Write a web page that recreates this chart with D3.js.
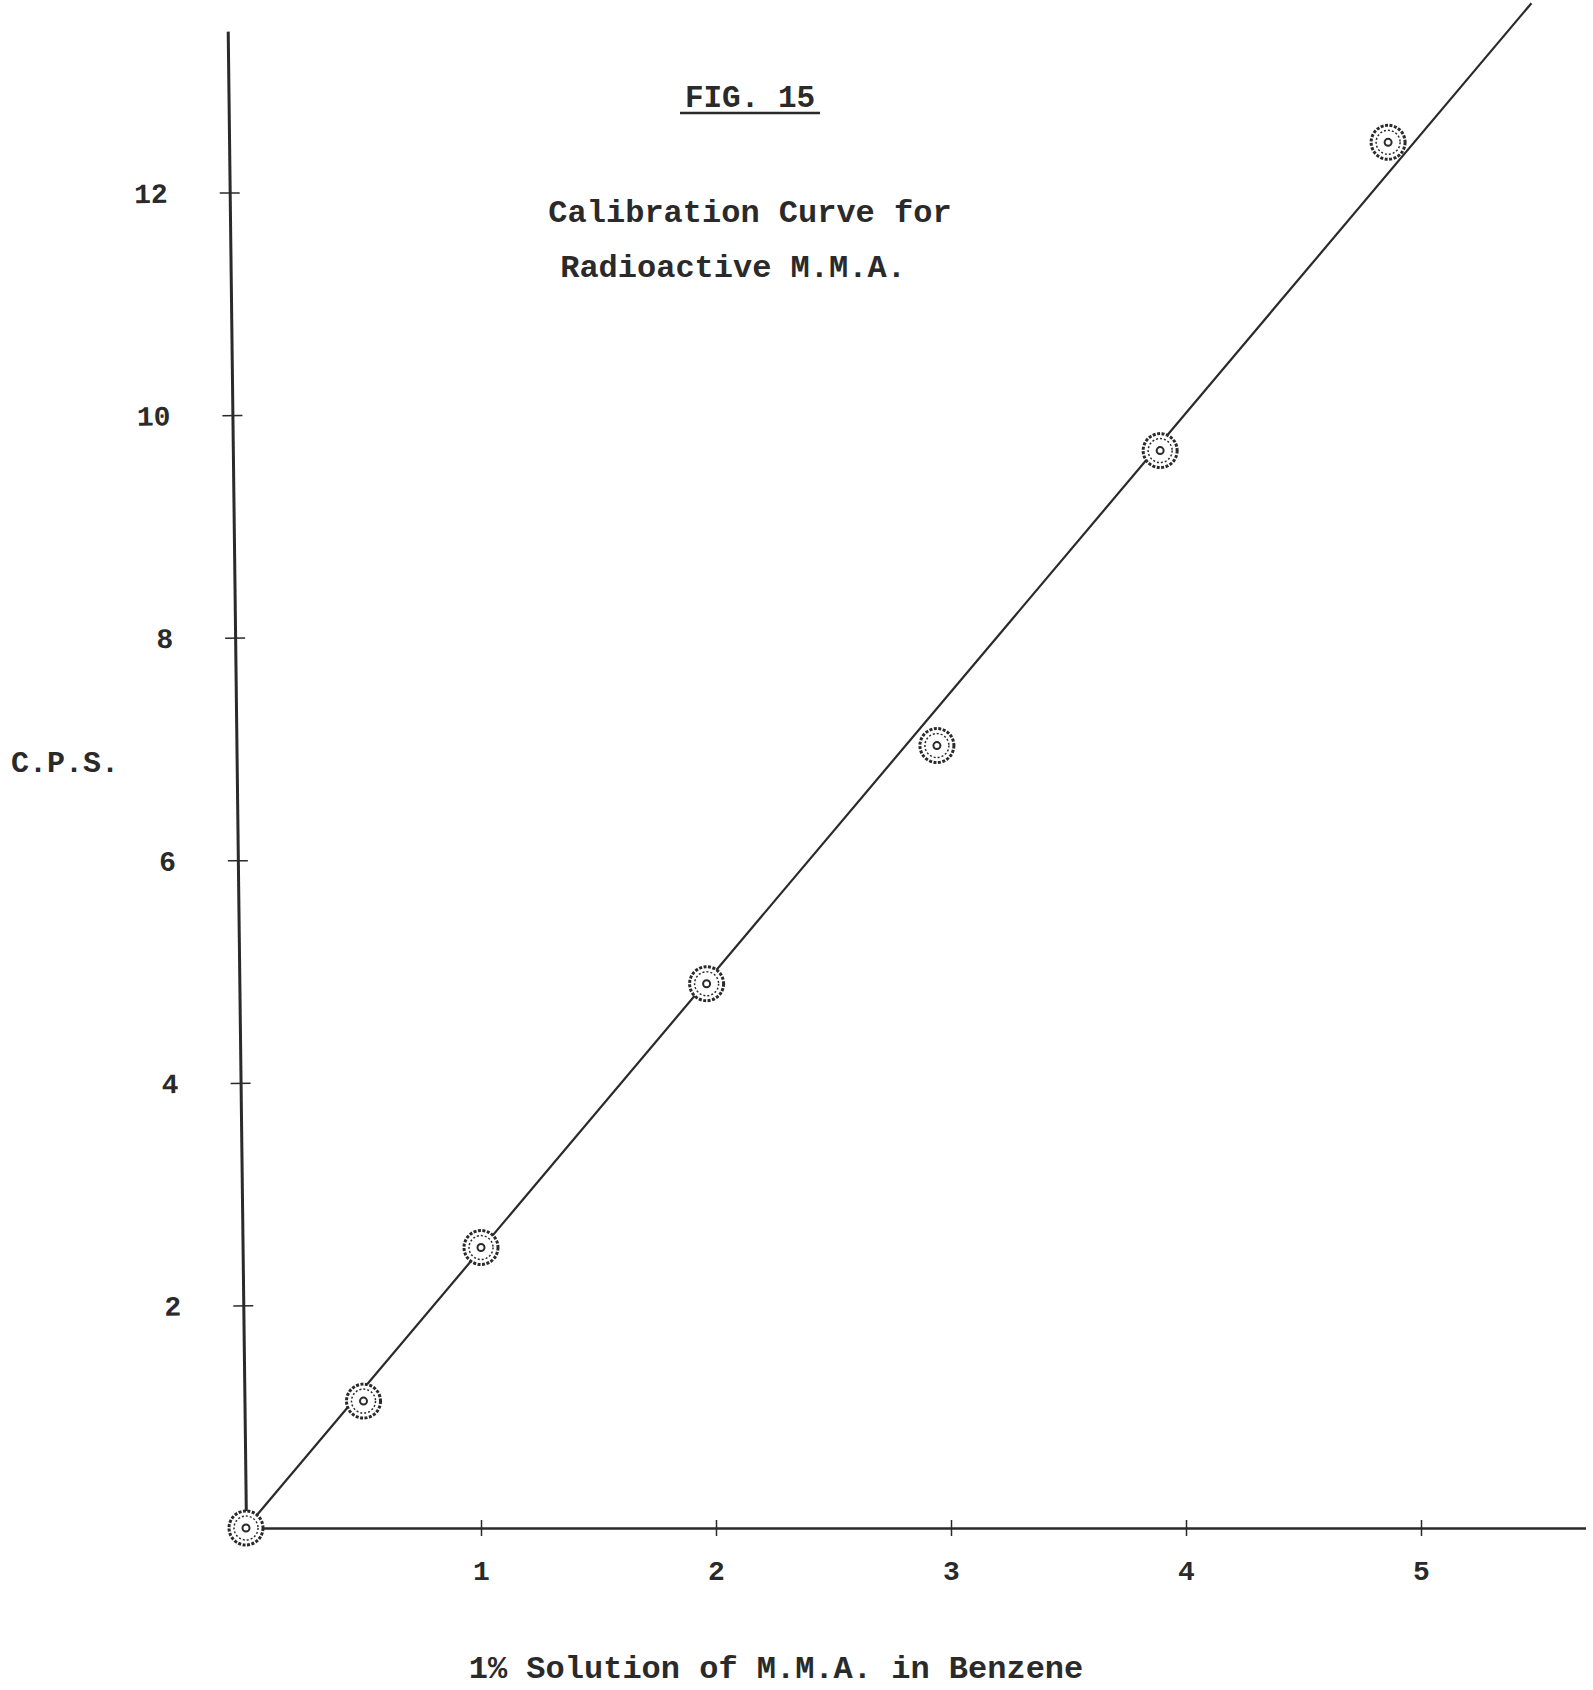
<!DOCTYPE html>
<html>
<head>
<meta charset="utf-8">
<script src="https://cdn.jsdelivr.net/npm/d3@7"></script>
<style>
  body { margin: 0; background: #fff; }
  svg { display: block; }
  text { font-family: 'Liberation Mono', 'DejaVu Sans Mono', monospace; fill: #2a2a2a; font-weight: bold; }
</style>
</head>
<body>
<svg id="chart"></svg>
<script>
// values
const concentration = [0, 0.5, 1.0, 1.96, 2.94, 3.89, 4.86];
const cps = [0, 1.14, 2.52, 4.89, 7.03, 9.68, 12.45];
const fitLine = [[0, 0], [5.47, 13.7]];
const xTicks = [1, 2, 3, 4, 5];
const yTicks = [2, 4, 6, 8, 10, 12];
const yTickLabels = ['2', '4', '6', '8', '10', '12'];

const width = 1593, height = 1690;
const ink = '#2a2a2a';

const svg = d3.select('#chart').attr('width', width).attr('height', height);

const x = d3.scaleLinear().domain([0, 5.7]).range([246, 246 + 5.7 * 235]);
const y = d3.scaleLinear().domain([0, 13.45]).range([1528, 1528 - 13.45 * 111.3]);

// x axis
const xAxis = svg.append('g')
  .attr('transform', `translate(0,${y(0)})`)
  .call(d3.axisBottom(x).tickValues(xTicks).tickSize(0).tickPadding(32).tickFormat(d3.format('d')));
xAxis.select('.domain').attr('stroke', ink).attr('stroke-width', 2.5);
xAxis.selectAll('.tick line').attr('y1', -8).attr('y2', 8).attr('stroke', ink).attr('stroke-width', 1.5);
xAxis.selectAll('.tick text').attr('font-size', 28).attr('fill', ink)
  .style('font-family', "'Liberation Mono', monospace");

// y axis (hand drawn, leans slightly to the left towards the top)
const yAxis = svg.append('g')
  .attr('transform', `translate(${x(0)},0) rotate(-0.7 0 ${y(0)})`)
  .call(d3.axisLeft(y).tickValues(yTicks).tickSize(0).tickPadding(62)
    .tickFormat((d, i) => yTickLabels[i]));
yAxis.select('.domain').attr('stroke', ink).attr('stroke-width', 3);
yAxis.selectAll('.tick line').attr('x1', -10).attr('x2', 10).attr('stroke', ink).attr('stroke-width', 1.5);
yAxis.selectAll('.tick text').attr('font-size', 28).attr('fill', ink)
  .style('font-family', "'Liberation Mono', monospace");

// calibration line
svg.append('path')
  .datum(fitLine)
  .attr('d', d3.line().x(d => x(d[0])).y(d => y(d[1])))
  .attr('fill', 'none')
  .attr('stroke', ink)
  .attr('stroke-width', 2.2);

// measured points: ringed circles
const pts = svg.selectAll('g.pt')
  .data(concentration.map((c, i) => ({ c: c, v: cps[i] })))
  .enter().append('g')
  .attr('class', 'pt')
  .attr('transform', d => `translate(${x(d.c)},${y(d.v)})`);
pts.append('circle').attr('r', 17).attr('fill', '#fff').attr('stroke', ink).attr('stroke-width', 3)
  .attr('stroke-dasharray', '3 1.5');
pts.append('circle').attr('r', 12).attr('fill', 'none').attr('stroke', ink).attr('stroke-width', 1.5)
  .attr('stroke-dasharray', '2 2');
pts.append('circle').attr('r', 3.5).attr('fill', 'none').attr('stroke', ink).attr('stroke-width', 2);

// titles
svg.append('text').attr('x', 750).attr('y', 107).attr('text-anchor', 'middle')
  .attr('font-size', 31).text('FIG. 15');
svg.append('line').attr('x1', 680).attr('x2', 820).attr('y1', 113).attr('y2', 113)
  .attr('stroke', ink).attr('stroke-width', 2.5);
svg.append('text').attr('x', 750).attr('y', 222).attr('text-anchor', 'middle')
  .attr('font-size', 32).text('Calibration Curve for');
svg.append('text').attr('x', 733).attr('y', 277).attr('text-anchor', 'middle')
  .attr('font-size', 32).text('Radioactive M.M.A.');

// axis titles
svg.append('text').attr('x', 65).attr('y', 772).attr('text-anchor', 'middle')
  .attr('font-size', 30).text('C.P.S.');
svg.append('text').attr('x', 776).attr('y', 1678).attr('text-anchor', 'middle')
  .attr('font-size', 32).text('1% Solution of M.M.A. in Benzene');
</script>
</body>
</html>
